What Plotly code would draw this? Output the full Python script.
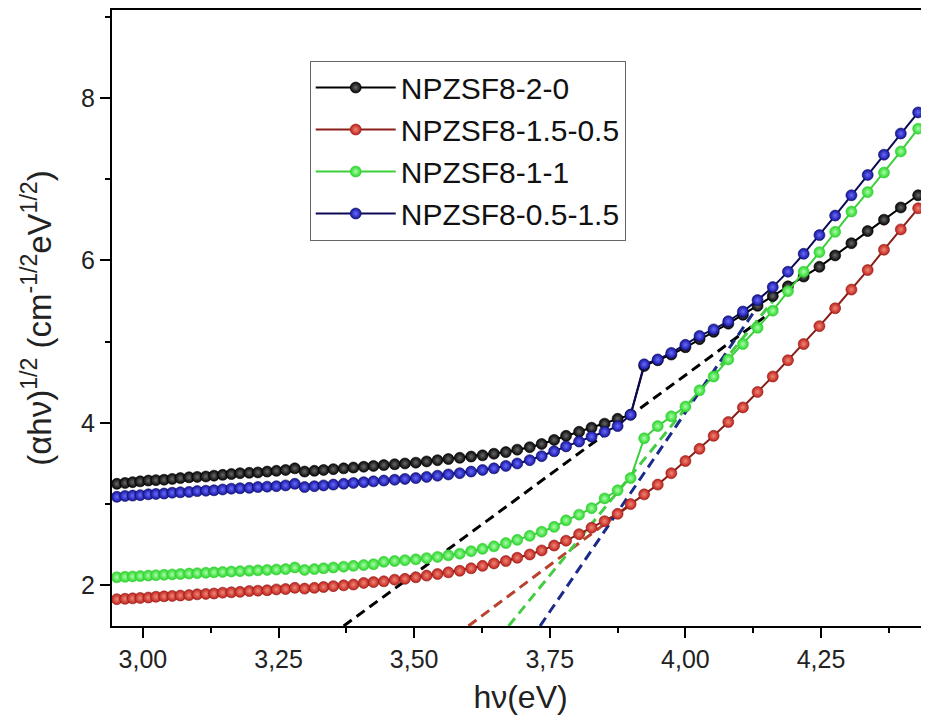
import plotly.graph_objects as go

# Photon energy grid (eV)
hv = [2.952, 2.967, 2.981, 2.995, 3.010, 3.024, 3.039, 3.054, 3.069, 3.085,
      3.100, 3.116, 3.131, 3.147, 3.163, 3.179, 3.196, 3.212, 3.229, 3.246,
      3.263, 3.280, 3.298, 3.316, 3.333, 3.351, 3.370, 3.388, 3.407, 3.425,
      3.444, 3.464, 3.483, 3.503, 3.523, 3.543, 3.563, 3.584, 3.605, 3.626,
      3.647, 3.669, 3.690, 3.713, 3.735, 3.758, 3.780, 3.804, 3.827, 3.851,
      3.875, 3.899, 3.924, 3.949, 3.974, 4.000, 4.026, 4.052, 4.079, 4.106,
      4.133, 4.161, 4.189, 4.218, 4.247, 4.276, 4.306, 4.336, 4.366, 4.397,
      4.429]

npzsf8_2_0 = [3.25, 3.26, 3.27, 3.28, 3.29, 3.295, 3.30, 3.31, 3.32, 3.33,
              3.335, 3.34, 3.35, 3.36, 3.37, 3.38, 3.385, 3.39, 3.40, 3.41,
              3.42, 3.44, 3.40, 3.41, 3.42, 3.43, 3.44, 3.45, 3.46, 3.47,
              3.48, 3.49, 3.50, 3.51, 3.525, 3.54, 3.555, 3.57, 3.585, 3.60,
              3.62, 3.64, 3.67, 3.70, 3.74, 3.79, 3.84, 3.89, 3.94, 3.99,
              4.05, 4.10, 4.70, 4.77, 4.84, 4.93, 5.03, 5.12, 5.22, 5.33,
              5.44, 5.56, 5.68, 5.80, 5.92, 6.06, 6.21, 6.36, 6.50, 6.65,
              6.80]

npzsf8_15_05 = [1.83, 1.835, 1.84, 1.845, 1.85, 1.86, 1.865, 1.87, 1.875, 1.88,
                1.89, 1.895, 1.90, 1.91, 1.915, 1.92, 1.93, 1.935, 1.94, 1.95,
                1.955, 1.97, 1.96, 1.97, 1.98, 1.99, 2.00, 2.01, 2.03, 2.04,
                2.05, 2.07, 2.08, 2.10, 2.12, 2.14, 2.16, 2.18, 2.21, 2.24,
                2.27, 2.30, 2.34, 2.38, 2.43, 2.49, 2.55, 2.63, 2.71, 2.79,
                2.88, 3.00, 3.12, 3.24, 3.38, 3.53, 3.68, 3.84, 4.01, 4.19,
                4.38, 4.57, 4.77, 4.97, 5.19, 5.41, 5.64, 5.88, 6.13, 6.38,
                6.64]

npzsf8_1_1 = [2.10, 2.105, 2.11, 2.115, 2.12, 2.125, 2.13, 2.135, 2.14, 2.145,
              2.15, 2.155, 2.16, 2.165, 2.17, 2.175, 2.18, 2.185, 2.19, 2.195,
              2.20, 2.22, 2.19, 2.20, 2.21, 2.22, 2.23, 2.24, 2.25, 2.26,
              2.29, 2.30, 2.31, 2.32, 2.335, 2.35, 2.37, 2.39, 2.42, 2.45,
              2.48, 2.52, 2.56, 2.61, 2.66, 2.72, 2.80, 2.87, 2.95, 3.07,
              3.17, 3.32, 3.81, 3.96, 4.08, 4.20, 4.40, 4.57, 4.78, 4.97,
              5.17, 5.38, 5.62, 5.86, 6.10, 6.35, 6.60, 6.84, 7.08, 7.34,
              7.62]

npzsf8_05_15 = [3.09, 3.10, 3.105, 3.11, 3.12, 3.125, 3.13, 3.14, 3.145, 3.15,
                3.16, 3.165, 3.17, 3.18, 3.19, 3.195, 3.20, 3.21, 3.215, 3.22,
                3.23, 3.25, 3.21, 3.22, 3.23, 3.24, 3.25, 3.26, 3.27, 3.28,
                3.29, 3.30, 3.31, 3.32, 3.335, 3.35, 3.365, 3.38, 3.40, 3.42,
                3.44, 3.47, 3.50, 3.54, 3.59, 3.65, 3.71, 3.77, 3.83, 3.89,
                3.96, 4.10, 4.72, 4.78, 4.86, 4.96, 5.07, 5.15, 5.25, 5.37,
                5.51, 5.67, 5.86, 6.08, 6.31, 6.55, 6.80, 7.05, 7.30, 7.56,
                7.82]

# Linear extrapolation (tangent) lines: end points
fit_black_x, fit_black_y = [3.370, 4.170], [1.50, 5.42]
fit_red_x, fit_red_y = [3.600, 3.900], [1.50, 3.00]
fit_green_x, fit_green_y = [3.674, 4.170], [1.50, 5.57]
fit_blue_x, fit_blue_y = [3.732, 4.140], [1.50, 5.50]

names = ["NPZSF8-2-0", "NPZSF8-1.5-0.5", "NPZSF8-1-1", "NPZSF8-0.5-1.5"]
series = [npzsf8_2_0, npzsf8_15_05, npzsf8_1_1, npzsf8_05_15]
fits = [(fit_black_x, fit_black_y), (fit_red_x, fit_red_y),
        (fit_green_x, fit_green_y), (fit_blue_x, fit_blue_y)]

line_colors = ["#000000", "#8a1f1a", "#3ccf3c", "#0b0b55"]
marker_colors = ["#050505", "#c0201a", "#28d428", "#14149e"]
highlight_colors = ["#6a6a6a", "#f08878", "#a8ffa8", "#6a6aff"]
fit_colors = ["#000000", "#b8402c", "#44cc44", "#1a2a8a"]

FONT = "Arial, Liberation Sans, sans-serif"

fig = go.Figure()

for (fx, fy), c in zip(fits, fit_colors):
    fig.add_trace(go.Scatter(x=fx, y=fy, mode="lines", showlegend=False,
                             hoverinfo="skip",
                             line=dict(color=c, width=3, dash="10px,6px")))

for name, ys, lc, mc, hc in zip(names, series, line_colors, marker_colors, highlight_colors):
    fig.add_trace(go.Scatter(
        x=hv, y=ys, name=name, mode="lines+markers",
        line=dict(color=lc, width=2),
        marker=dict(size=11, color=mc,
                    gradient=dict(type="radial", color=hc),
                    line=dict(width=0.6, color=lc)),
    ))

axis_common = dict(
    showline=True, linecolor="black", linewidth=2,
    ticks="outside", ticklen=10, tickwidth=2, tickcolor="black",
    showgrid=False, zeroline=False, automargin=False,
    tickfont=dict(family=FONT, size=25, color="#222"),
)

# The page body adds an 8px offset, so the figure is sized to fill the
# remaining 921x714 of the 929x722 window.
fig.update_layout(
    width=921, height=714,
    margin=dict(l=104, r=0, t=2, b=96),
    plot_bgcolor="white", paper_bgcolor="white",
    separators=", ",
    font=dict(family=FONT, color="#222"),
    xaxis=dict(
        range=[2.943, 4.449], tick0=3.0, dtick=0.25, tickformat=".2f",
        mirror=True,
        minor=dict(dtick=0.125, ticks="outside", ticklen=5, tickwidth=2, tickcolor="black"),
        title=dict(text="hν(eV)", font=dict(family=FONT, size=32, color="#222"), standoff=14),
        **axis_common,
    ),
    yaxis=dict(
        range=[1.5, 9.08], tick0=0, dtick=2,
        minor=dict(dtick=1, ticks="outside", ticklen=5, tickwidth=2, tickcolor="black"),
        title=dict(text="(αhν)<sup>1/2</sup> (cm<sup>-1/2</sup>eV<sup>1/2</sup>)",
                   font=dict(family=FONT, size=33, color="#222"), standoff=20),
        **axis_common,
    ),
    legend=dict(
        x=0.242, y=0.918, xanchor="left", yanchor="top",
        bgcolor="white", bordercolor="#666", borderwidth=1,
        font=dict(family=FONT, size=30, color="#111"),
        itemwidth=80, tracegroupgap=0,
    ),
)

fig.write_html("out.html")
